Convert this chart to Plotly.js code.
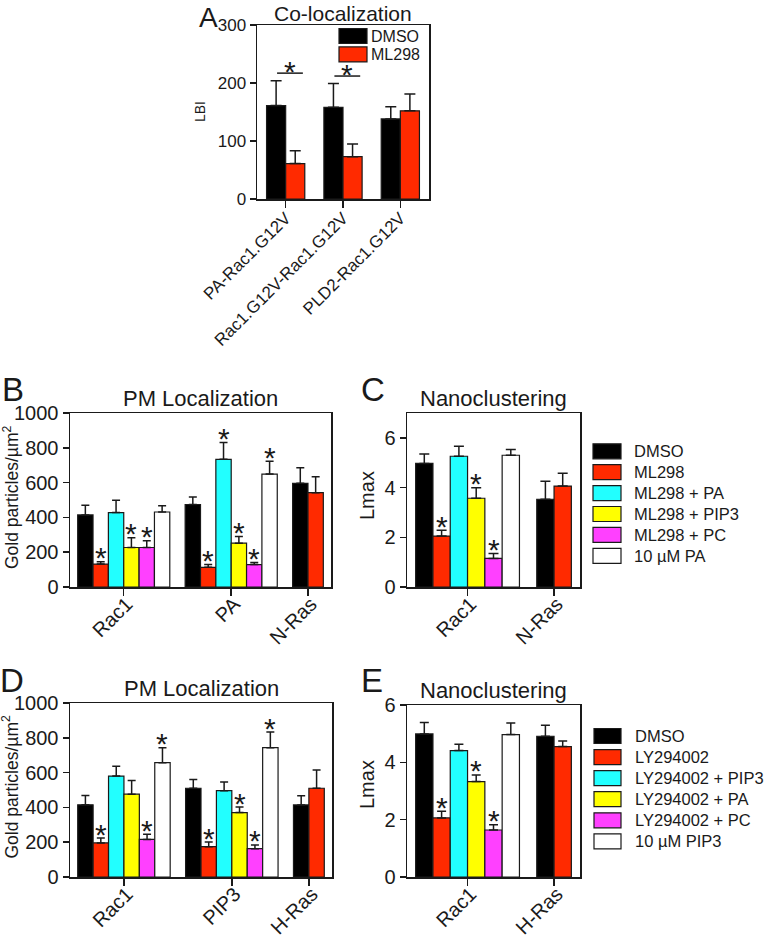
<!DOCTYPE html>
<html><head><meta charset="utf-8">
<script src="https://cdn.plot.ly/plotly-3.0.1.min.js"></script>
<style>html,body{margin:0;padding:0;background:#fff}#chart{width:766px;height:937px}</style>
</head><body><div id="chart"></div>
<script>
// ---------------- DATA ----------------
// Panel A: Co-localization (LBI)
const aCategories = ['PA-Rac1.G12V', 'Rac1.G12V-Rac1.G12V', 'PLD2-Rac1.G12V'];
const aNames = ['DMSO', 'ML298'];
const aDMSO = [161, 158, 138];
const aDMSOErr = [43, 41, 21];
const aML298 = [61, 73, 152];
const aML298Err = [22, 22, 29];
const aSignificant = [true, true, false];
const aSigLineY = [217, 212];

// Panel B: PM Localization (ML298)
const bCategories = ['Rac1', 'PA', 'N-Ras'];
const bNames = ['DMSO', 'ML298', 'ML298 + PA', 'ML298 + PIP3', 'ML298 + PC', '10 µM PA'];
const bDMSO = [414, 474, 596];       const bDMSOErr = [56, 43, 90];
const bML298 = [132, 113, 542];      const bML298Err = [13, 17, 92];
const bPA = [428, 734, null];        const bPAErr = [70, 97, null];
const bPIP3 = [227, 252, null];      const bPIP3Err = [56, 38, null];
const bPC = [227, 129, null];        const bPCErr = [39, 12, null];
const bPA10 = [431, 649, null];      const bPA10Err = [36, 74, null];
const bStars = [[0,0,0],[1,1,0],[0,1,0],[1,1,0],[1,1,0],[0,1,0]];

// Panel C: Nanoclustering (ML298)
const cCategories = ['Rac1', 'N-Ras'];
const cDMSO = [4.97, 3.53];   const cDMSOErr = [0.38, 0.72];
const cML298 = [2.05, 4.06];  const cML298Err = [0.23, 0.52];
const cPA = [5.26, null];     const cPAErr = [0.40, null];
const cPIP3 = [3.57, null];   const cPIP3Err = [0.42, null];
const cPC = [1.15, null];     const cPCErr = [0.20, null];
const cPA10 = [5.30, null];   const cPA10Err = [0.23, null];
const cStars = [[0,0],[1,0],[0,0],[1,0],[1,0],[0,0]];

// Panel D: PM Localization (LY294002)
const dCategories = ['Rac1', 'PIP3', 'H-Ras'];
const dNames = ['DMSO', 'LY294002', 'LY294002 + PIP3', 'LY294002 + PA', 'LY294002 + PC', '10 µM PIP3'];
const dDMSO = [415, 510, 414];    const dDMSOErr = [54, 51, 53];
const dLY = [196, 174, 510];      const dLYErr = [28, 27, 105];
const dPIP3 = [580, 496, null];   const dPIP3Err = [56, 50, null];
const dPA = [476, 370, null];     const dPAErr = [79, 32, null];
const dPC = [216, 163, null];     const dPCErr = [29, 21, null];
const dPIP310 = [657, 743, null]; const dPIP310Err = [86, 90, null];
const dStars = [[0,0,0],[1,1,0],[0,0,0],[0,1,0],[1,1,0],[1,1,0]];

// Panel E: Nanoclustering (LY294002)
const eCategories = ['Rac1', 'H-Ras'];
const eDMSO = [4.99, 4.91];  const eDMSOErr = [0.40, 0.38];
const eLY = [2.06, 4.55];    const eLYErr = [0.23, 0.19];
const ePIP3 = [4.41, null];  const ePIP3Err = [0.22, null];
const ePA = [3.33, null];    const ePAErr = [0.23, null];
const ePC = [1.64, null];    const ePCErr = [0.18, null];
const ePIP310 = [4.97, null];const ePIP310Err = [0.40, null];
const eStars = [[0,0],[1,0],[0,0],[1,0],[1,0],[0,0]];

const colors = ['#000000', '#ff2a00', '#22ffff', '#ffff00', '#ff40ff', '#ffffff'];

// ---------------- LAYOUT HELPERS ----------------
const W = 766, H = 937;
const FONT = 'Arial, "Liberation Sans", Helvetica, sans-serif';
const INK = '#1a1a1a';
const px = v => v / W;
const py = v => 1 - v / H;

const traces = [];
const annotations = [];
const shapes = [];
const layout = {
  width: W, height: H, margin: {l:0, r:0, t:0, b:0},
  paper_bgcolor: '#fff', plot_bgcolor: '#fff',
  barmode: 'overlay', showlegend: false,
  font: {family: FONT, color: INK}
};

function slots(categories, series) {
  const pos = series.map(() => []);
  const centers = [];
  let cursor = 0.5;
  categories.forEach((c, g) => {
    let k = 0;
    series.forEach((s, si) => {
      if (s.values[g] != null) { pos[si][g] = cursor + 0.5 + k; k++; }
      else pos[si][g] = null;
    });
    centers.push(cursor + k / 2);
    cursor += k + 1;
  });
  return {pos, centers, end: cursor - 0.5};
}

function panel(n, cfg) {
  const xa = n === 1 ? 'x' : 'x' + n, ya = n === 1 ? 'y' : 'y' + n;
  const s = slots(cfg.categories, cfg.series);
  cfg.series.forEach((ser, si) => {
    const xs = [], ys = [], es = [], zs = [];
    ser.values.forEach((v, g) => {
      if (v == null) return;
      xs.push(s.pos[si][g]); ys.push(v); es.push(ser.errors[g]); zs.push(0);
      if (ser.stars && ser.stars[g]) {
        annotations.push({xref: xa, yref: ya, x: s.pos[si][g], y: v + ser.errors[g],
          text: '*', showarrow: false, yanchor: 'middle', yshift: cfg.starShift,
          font: {size: cfg.starSize, color: INK, family: FONT}});
      }
    });
    traces.push({type: 'bar', x: xs, y: ys, width: 1, xaxis: xa, yaxis: ya,
      name: ser.name, hoverinfo: 'skip',
      marker: {color: ser.color, line: {color: INK, width: 1.2}},
      error_y: {type: 'data', symmetric: false, array: es, arrayminus: zs,
        color: INK, thickness: 1.5, width: cfg.capW}});
  });
  const axKey = n === 1 ? 'xaxis' : 'xaxis' + n, ayKey = n === 1 ? 'yaxis' : 'yaxis' + n;
  const common = {showline: true, linecolor: INK, linewidth: 1.5, mirror: true,
    showgrid: false, zeroline: false, ticks: 'outside', tickcolor: INK, tickwidth: 1.5,
    fixedrange: true};
  layout[axKey] = Object.assign({}, common, {
    domain: [px(cfg.box[0]), px(cfg.box[1])], anchor: ya,
    range: [0, s.end], tickmode: 'array', tickvals: s.centers, ticktext: cfg.categories,
    tickangle: -45, ticklen: 7, ticklabelstandoff: cfg.xStandoff, ticklabelshift: cfg.xShift || 0,
    tickfont: {size: cfg.xFont, color: INK, family: FONT}});
  layout[ayKey] = Object.assign({}, common, {
    domain: [py(cfg.box[3]), py(cfg.box[2])], anchor: xa,
    range: cfg.yRange, tickmode: 'array', tickvals: cfg.yTicks, ticklen: 6,
    tickfont: {size: cfg.yFont, color: INK, family: FONT}});
  // title
  annotations.push({xref: xa + ' domain', yref: ya + ' domain', x: 0.5, y: 1,
    xanchor: 'center', yanchor: 'bottom', yshift: cfg.titleShift || 0, showarrow: false,
    text: cfg.title, font: {size: cfg.titleSize || 22, color: INK, family: FONT}});
  // y title
  annotations.push({xref: xa + ' domain', yref: ya + ' domain', x: 0, y: 0.5,
    xanchor: 'center', yanchor: 'middle', xshift: cfg.yTitleX - cfg.box[0],
    yshift: cfg.yTitleShift || 0, textangle: -90, showarrow: false,
    text: cfg.yTitle, font: {size: cfg.yTitleFont, color: INK, family: FONT}});
  // panel letter
  annotations.push({xref: 'paper', yref: 'paper', x: px(cfg.letter[1]), y: py(cfg.letter[2]),
    xanchor: 'center', yanchor: 'middle', showarrow: false, text: cfg.letter[0],
    font: {size: cfg.letterSize || 34, color: INK, family: FONT}});
  return {xa, ya, s};
}

function legend(names, cols, boxX0, boxX1, y0, dy, boxH, textX, fontSize) {
  names.forEach((nm, i) => {
    const cy = y0 + i * dy;
    shapes.push({type: 'rect', xref: 'paper', yref: 'paper',
      x0: px(boxX0), x1: px(boxX1), y0: py(cy + boxH / 2), y1: py(cy - boxH / 2),
      fillcolor: cols[i], line: {color: INK, width: 1.2}});
    annotations.push({xref: 'paper', yref: 'paper', x: px(textX), y: py(cy),
      xanchor: 'left', yanchor: 'middle', showarrow: false, text: nm,
      font: {size: fontSize, color: INK, family: FONT}});
  });
}

// ---------------- PANELS ----------------
const STAR = 30, STARSHIFT = 4;
const pA = panel(1, {
  categories: aCategories,
  series: [
    {name: aNames[0], color: colors[0], values: aDMSO, errors: aDMSOErr},
    {name: aNames[1], color: colors[1], values: aML298, errors: aML298Err}],
  box: [257, 429, 25, 199], yRange: [0, 300], yTicks: [0, 100, 200, 300],
  xFont: 17, yFont: 17, xStandoff: -6, capW: 5.5, starSize: STAR, starShift: STARSHIFT,
  title: 'Co-localization', titleSize: 21, titleShift: -2,
  yTitle: 'LBI', yTitleX: 200, yTitleFont: 14,
  letter: ['A', 209, 18], letterSize: 28});
aSignificant.forEach((sig, g) => {
  if (!sig) return;
  const x0 = pA.s.pos[0][g] + 0.05, x1 = pA.s.pos[1][g] + 0.4;
  shapes.push({type: 'line', xref: 'x', yref: 'y', x0: x0, x1: x1,
    y0: aSigLineY[g], y1: aSigLineY[g], line: {color: INK, width: 1.5}});
  annotations.push({xref: 'x', yref: 'y', x: (x0 + x1) / 2, y: aSigLineY[g],
    text: '*', showarrow: false, yanchor: 'middle', yshift: 2,
    font: {size: STAR, color: INK, family: FONT}});
});
legend(aNames, colors, 339, 367, 36, 18.4, 15, 369, 16);

const bVals = [bDMSO, bML298, bPA, bPIP3, bPC, bPA10];
const bErrs = [bDMSOErr, bML298Err, bPAErr, bPIP3Err, bPCErr, bPA10Err];
panel(2, {
  categories: bCategories,
  series: bNames.map((nm, i) => ({name: nm, color: colors[i], values: bVals[i], errors: bErrs[i], stars: bStars[i]})),
  box: [70, 331, 413, 587], yRange: [0, 1000], yTicks: [0, 200, 400, 600, 800, 1000],
  xFont: 20, yFont: 20, xStandoff: -11, xShift: 3, capW: 4, starSize: STAR, starShift: STARSHIFT,
  title: 'PM Localization', yTitle: 'Gold particles/µm<sup>2</sup>', yTitleX: 11, yTitleFont: 17.5, yTitleShift: 3,
  letter: ['B', 13, 390], letterSize: 33});

const cVals = [cDMSO, cML298, cPA, cPIP3, cPC, cPA10];
const cErrs = [cDMSOErr, cML298Err, cPAErr, cPIP3Err, cPCErr, cPA10Err];
panel(3, {
  categories: cCategories,
  series: bNames.map((nm, i) => ({name: nm, color: colors[i], values: cVals[i], errors: cErrs[i], stars: cStars[i]})),
  box: [407, 580, 413, 587], yRange: [0, 7], yTicks: [0, 2, 4, 6],
  xFont: 20, yFont: 20, xStandoff: -11, xShift: 3, capW: 5, starSize: STAR, starShift: STARSHIFT,
  title: 'Nanoclustering', yTitle: 'Lmax', yTitleX: 367, yTitleFont: 20, yTitleShift: 4,
  letter: ['C', 373, 390], letterSize: 33});
legend(bNames, colors, 593, 621, 451.3, 20.9, 15, 632, 16.5);

const dVals = [dDMSO, dLY, dPIP3, dPA, dPC, dPIP310];
const dErrs = [dDMSOErr, dLYErr, dPIP3Err, dPAErr, dPCErr, dPIP310Err];
panel(4, {
  categories: dCategories,
  series: dNames.map((nm, i) => ({name: nm, color: colors[i], values: dVals[i], errors: dErrs[i], stars: dStars[i]})),
  box: [70, 332, 703, 877], yRange: [0, 1000], yTicks: [0, 200, 400, 600, 800, 1000],
  xFont: 20, yFont: 20, xStandoff: -11, xShift: 3, capW: 4, starSize: STAR, starShift: STARSHIFT,
  title: 'PM Localization', yTitle: 'Gold particles/µm<sup>2</sup>', yTitleX: 10.5, yTitleFont: 17.5, yTitleShift: 3,
  letter: ['D', 12, 680], letterSize: 33});

const eVals = [eDMSO, eLY, ePIP3, ePA, ePC, ePIP310];
const eErrs = [eDMSOErr, eLYErr, ePIP3Err, ePAErr, ePCErr, ePIP310Err];
panel(5, {
  categories: eCategories,
  series: dNames.map((nm, i) => ({name: nm, color: colors[i], values: eVals[i], errors: eErrs[i], stars: eStars[i]})),
  box: [407, 580, 705, 877], yRange: [0, 6], yTicks: [0, 2, 4, 6],
  xFont: 20, yFont: 20, xStandoff: -11, xShift: 3, capW: 4.5, starSize: STAR, starShift: STARSHIFT,
  title: 'Nanoclustering', yTitle: 'Lmax', yTitleX: 367, yTitleFont: 20, yTitleShift: 6,
  letter: ['E', 372, 680], letterSize: 33});
legend(dNames, colors, 594, 621, 736, 21.07, 15, 633, 16.5);

layout.annotations = annotations;
layout.shapes = shapes;
Plotly.newPlot('chart', traces, layout, {staticPlot: true, displayModeBar: false});
</script>
</body></html>
